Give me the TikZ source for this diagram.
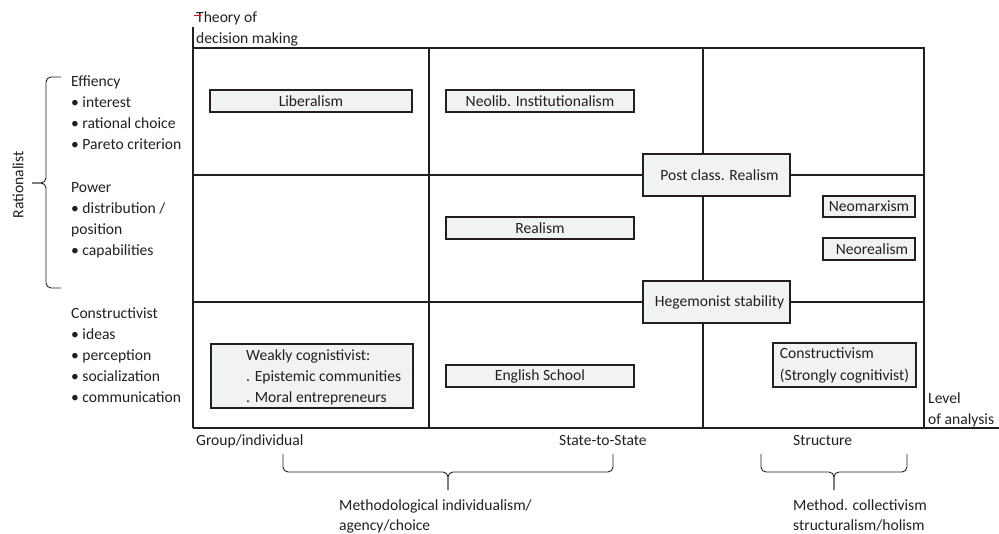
\documentclass[tikz,border=0pt]{standalone}
\usepackage{fontspec}
\setmainfont{Carlito}
\usepackage{tikz}

\definecolor{ink}{HTML}{231F20}
\definecolor{boxfill}{HTML}{F1F2F4}

\tikzset{
	grid/.style={draw=ink, line width=1.9pt},
	theory/.style={shape=rectangle, draw=ink, line width=1.9pt, fill=boxfill, inner sep=1pt, text=ink},
	txt/.style={anchor=base west, inner sep=0pt, text=ink},
	bracket/.style={draw=ink, line width=0.9pt, rounded corners=5pt}
}

\begin{document}
\begin{tikzpicture}[x=1pt, y=-1pt, font=\fontsize{15.6}{21}\selectfont]

	\useasboundingbox (0,0) rectangle (999,533);

	% grid
	\draw[grid] (193,27) -- (193,428);
	\draw[grid] (193,48) -- (924,48) -- (924,428);
	\draw[grid] (429,48) -- (429,428);
	\draw[grid] (703,48) -- (703,428);
	\draw[grid] (193,175) -- (924,175);
	\draw[grid] (193,302) -- (924,302);
	\draw[grid] (193,428) -- (999,428);

	% theories
	\node[theory, minimum width=202, minimum height=22] (liberalism) at (311,101)   {Liberalism};
	\node[theory, minimum width=188, minimum height=22] (neolib)     at (540,101)   {Neolib. Institutionalism};
	\node[theory, minimum width=147, minimum height=42] (postclass)  at (716.5,175) {\hspace*{6pt}Post class. Realism};
	\node[theory, minimum width=188, minimum height=22] (realism)    at (540,228)   {Realism};
	\node[theory, minimum width=92,  minimum height=21] (neomarx)    at (869,206.5) {Neomarxism};
	\node[theory, minimum width=92,  minimum height=22] (neoreal)    at (869,249)   {\hspace*{6pt}Neorealism};
	\node[theory, minimum width=147, minimum height=42] (hegemon)    at (716.5,302) {\hspace*{6pt}Hegemonist stability};
	\node[theory, minimum width=202, minimum height=64] (weak)       at (312,376)   {};
	\node[txt, anchor=west, align=left] (weaktext) at (246,377) {Weakly cognistivist:\\. Epistemic communities\\. Moral entrepreneurs};
	\node[theory, minimum width=188, minimum height=22] (english)    at (540,376)   {English School};
	\node[theory, minimum width=143, minimum height=44, align=left, font=\fontsize{15.6}{22}\selectfont] (construct) at (844.5,365) {Constructivism\\(Strongly cognitivist)};

	% axis texts
	\node[txt] (theory1) at (196,22)  {Theory of};
	\node[txt] (theory2) at (196,43)  {decision making};
	\draw[red, line width=0.6pt] (194,15) -- (201,15);
	\node[txt] (level1)  at (928,403) {Level};
	\node[txt] (level2)  at (928,424) {of analysis};
	\node[txt] (group)   at (196,445) {Group/individual};
	\node[txt] (state)   at (559,445) {State-to-State};
	\node[txt] (struct)  at (793,445) {Structure};

	% rationalist side
	\node[txt] (eff)   at (71,86)  {Effiency};
	\node[txt] (eff1)  at (71,107) {\textbullet\ interest};
	\node[txt] (eff2)  at (71,128) {\textbullet\ rational choice};
	\node[txt] (eff3)  at (71,149) {\textbullet\ Pareto criterion};
	\node[txt] (pow)   at (71,192) {Power};
	\node[txt] (pow1)  at (71,213) {\textbullet\ distribution /};
	\node[txt] (pow2)  at (71,234) {position};
	\node[txt] (pow3)  at (71,255) {\textbullet\ capabilities};
	\node[txt] (con)   at (71,318) {Constructivist};
	\node[txt] (con1)  at (71,339) {\textbullet\ ideas};
	\node[txt] (con2)  at (71,360) {\textbullet\ perception};
	\node[txt] (con3)  at (71,381) {\textbullet\ socialization};
	\node[txt] (con4)  at (71,402) {\textbullet\ communication};

	\node[rotate=90, inner sep=0pt, text=ink] (rational) at (18,185) {Rationalist};
	\draw[bracket] (61,77) -- (46,77) -- (46,183) -- (32,183);
	\draw[bracket] (61,288) -- (46,288) -- (46,183) -- (32,183);

	% bottom braces
	\draw[bracket] (283,454) -- (283,472) -- (448,472) -- (448,490);
	\draw[bracket] (613,454) -- (613,472) -- (448,472) -- (448,490);
	\draw[bracket] (761,454) -- (761,472) -- (834,472) -- (834,490);
	\draw[bracket] (907,454) -- (907,472) -- (834,472) -- (834,490);

	\node[txt] (indiv1) at (339,510) {Methodological individualism/};
	\node[txt] (indiv2) at (339,530) {agency/choice};
	\node[txt] (coll1)  at (793,510) {Method. collectivism};
	\node[txt] (coll2)  at (793,530) {structuralism/holism};

\end{tikzpicture}
\end{document}
